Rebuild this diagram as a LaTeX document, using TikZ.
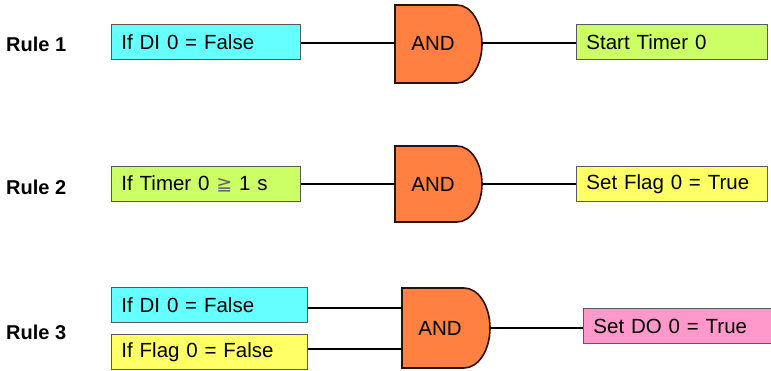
\documentclass[tikz,border=0pt]{standalone}
\usepackage{fontspec}
\setmainfont{Liberation Sans}
\newfontfamily\symfont{DejaVu Sans}
\definecolor{cyanbox}{HTML}{66FFFF}
\definecolor{greenbox}{HTML}{CCFF66}
\definecolor{yellowbox}{HTML}{FFFF66}
\definecolor{pinkbox}{HTML}{FF99CC}
\definecolor{gateorange}{HTML}{FF8040}
\definecolor{gateedge}{HTML}{2A1208}
\definecolor{boxedge}{HTML}{5A5A5A}
\begin{document}
\begin{tikzpicture}[x=1pt,y={(0,-1pt)},
  box/.style={draw=boxedge,line width=0.9pt,anchor=north west,inner sep=0pt,
    minimum height=35pt,text width=#1-20pt,minimum width=#1,align=left,
    font=\fontsize{20.5}{23}\selectfont},
  gate/.style={draw=gateedge,line width=1.6pt,fill=gateorange},
  wire/.style={draw=black,line width=1.6pt},
  rulelabel/.style={anchor=west,inner sep=0pt,font=\fontsize{20}{23}\selectfont\bfseries},
  gatetext/.style={inner sep=0pt,font=\fontsize{20.5}{23}\selectfont}]
\useasboundingbox (0,0) rectangle (771,371);

% Rule labels
\node[rulelabel] (l1) at (6,44) {Rule 1};
\node[rulelabel] (l2) at (6,187) {Rule 2};
\node[rulelabel] (l3) at (6,332) {Rule 3};

% Boxes
\node[box=189pt,fill=cyanbox] (r1in) at (111,24) {If DI 0 = False};
\node[box=191pt,fill=greenbox] (r1out) at (576,24) {Start Timer 0};
\node[box=189pt,fill=greenbox] (r2in) at (111,166) {If Timer 0 {\symfont\fontsize{19}{22}\selectfont\color{black!60}≧} 1 s};
\node[box=191pt,fill=yellowbox] (r2out) at (576,166) {Set Flag 0 = True};
\node[box=196pt,fill=cyanbox] (r3ina) at (111,287) {If DI 0 = False};
\node[box=196pt,fill=yellowbox] (r3inb) at (111,334) {If Flag 0 = False};
\node[box=190pt,fill=pinkbox] (r3out) at (583,308) {Set DO 0 = True};

% Gates
\draw[gate] (395,5) -- (457,5) arc[start angle=-90,end angle=90,x radius=25,y radius=39] -- (395,83) -- cycle;
\coordinate (g1in) at (395,43);
\coordinate (g1out) at (482,43);
\node[gatetext] (g1) at (433,43) {AND};

\draw[gate] (395,146) -- (457,146) arc[start angle=-90,end angle=90,x radius=25,y radius=38] -- (395,222) -- cycle;
\coordinate (g2in) at (395,184);
\coordinate (g2out) at (482,184);
\node[gatetext] (g2) at (433,184) {AND};

\draw[gate] (402,288) -- (464,288) arc[start angle=-90,end angle=90,x radius=26,y radius=40] -- (402,368) -- cycle;
\coordinate (g3ina) at (402,308);
\coordinate (g3inb) at (402,349);
\coordinate (g3out) at (490,328);
\node[gatetext] (g3) at (440,328) {AND};

% Wires
\draw[wire] (r1in.east |- g1in) -- (g1in);
\draw[wire] (g1out) -- (r1out.west |- g1out);
\draw[wire] (r2in.east |- g2in) -- (g2in);
\draw[wire] (g2out) -- (r2out.west |- g2out);
\draw[wire] (r3ina.east |- g3ina) -- (g3ina);
\draw[wire] (r3inb.east |- g3inb) -- (g3inb);
\draw[wire] (g3out) -- (r3out.west |- g3out);
\end{tikzpicture}
\end{document}
